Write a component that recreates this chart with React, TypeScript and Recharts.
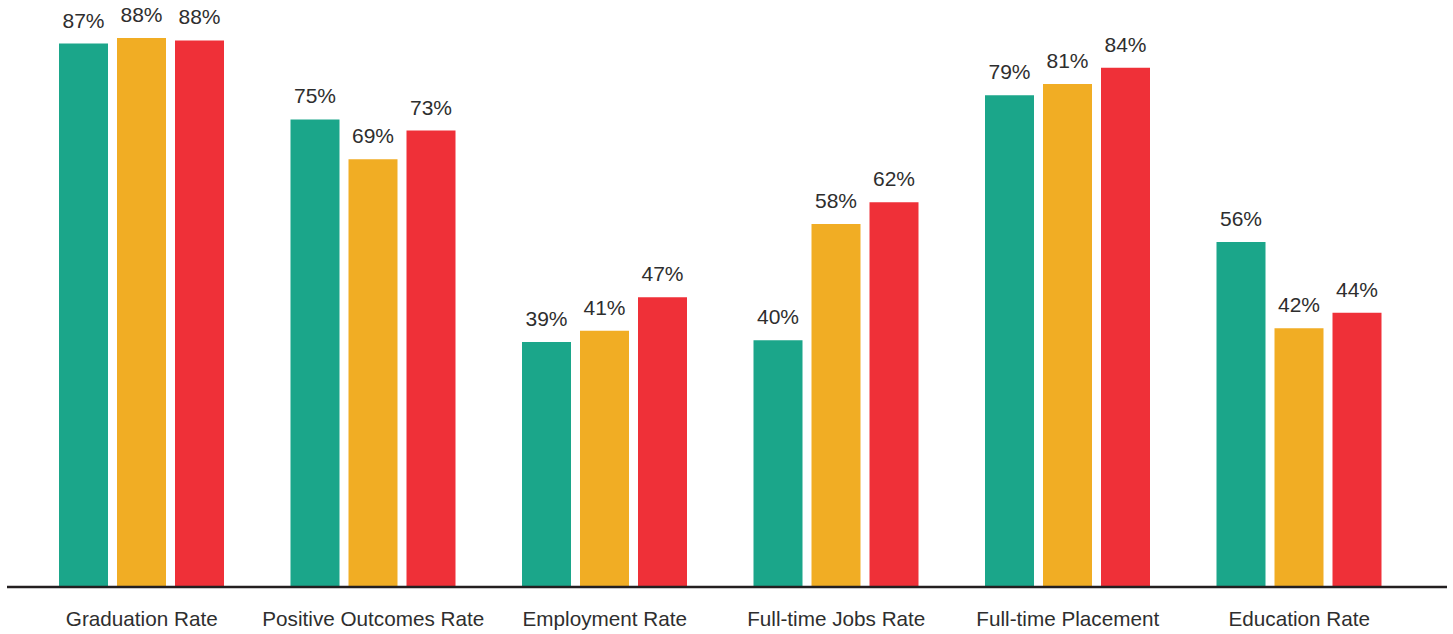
import { BarChart, Bar, XAxis, YAxis, LabelList } from "recharts";

// outcome categories along the x axis
const categories = [
  "Graduation Rate",
  "Positive Outcomes Rate",
  "Employment Rate",
  "Full-time Jobs Rate",
  "Full-time Placement",
  "Education Rate",
];

// three series (labels show the rounded value)
const greenValues = [87.4, 75.2, 39.4, 39.7, 79.1, 55.5];
const orangeValues = [88.3, 68.8, 41.2, 58.4, 80.9, 41.6];
const redValues = [87.9, 73.4, 46.6, 61.9, 83.5, 44.1];

const COLORS = { green: "#1BA68A", orange: "#F1AD24", red: "#EF3038" };
const TEXT = "#2e2e2e";
const FONT = "'Liberation Sans', Arial, Helvetica, sans-serif";

const data = categories.map((name, i) => ({
  name,
  green: greenValues[i],
  orange: orangeValues[i],
  red: redValues[i],
}));

const pct = (v: any) => `${Math.round(Number(v))}%`;

export default function App() {
  const series = [
    { key: "green", color: COLORS.green },
    { key: "orange", color: COLORS.orange },
    { key: "red", color: COLORS.red },
  ];

  return (
    <div style={{ position: "absolute", left: 0, top: 0, background: "#fff" }}>
      <BarChart
        width={1453}
        height={634}
        data={data}
        margin={{ top: 10, right: 6, bottom: 0, left: 7 }}
        barSize={49}
        barGap={9}
        style={{ fontFamily: FONT }}
      >
        <XAxis
          dataKey="name"
          height={47}
          padding={{ left: 19, right: 32 }}
          axisLine={{ stroke: "#231f20", strokeWidth: 2.5 }}
          tickLine={false}
          tickMargin={18}
          interval={0}
          tick={{ fill: TEXT, fontSize: 20.7, fontFamily: FONT }}
        />
        <YAxis hide domain={[0, 92.8]} />
        {series.map((s) => (
          <Bar
            key={s.key}
            dataKey={s.key}
            fill={s.color}
            isAnimationActive={false}
          >
            <LabelList
              dataKey={s.key}
              position="top"
              offset={16}
              formatter={pct}
              style={{ fill: TEXT, fontSize: 21, fontFamily: FONT }}
            />
          </Bar>
        ))}
      </BarChart>
    </div>
  );
}
